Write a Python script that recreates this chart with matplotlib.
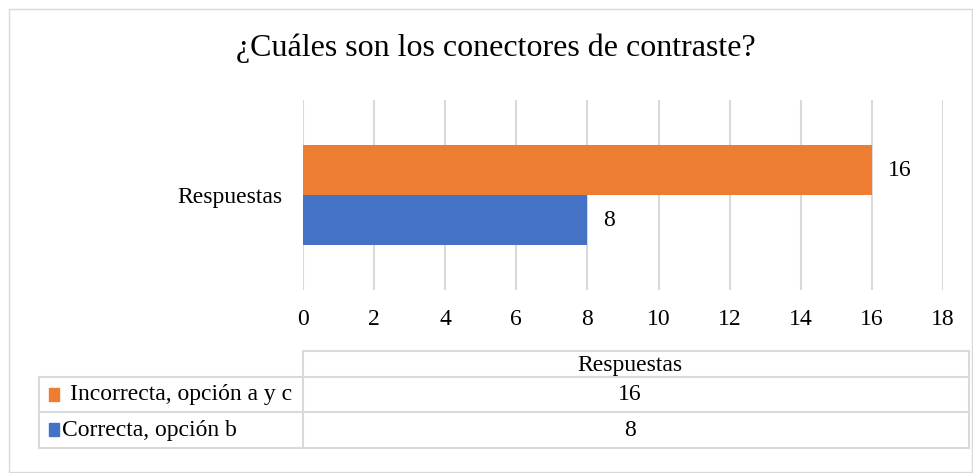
import matplotlib.pyplot as plt
from matplotlib.lines import Line2D
from matplotlib.patches import Rectangle

plt.rcParams['font.family'] = ['Liberation Serif', 'DejaVu Serif']

title = '¿Cuáles son los conectores de contraste?'
category = 'Respuestas'
series = ['Incorrecta, opción a y c', 'Correcta, opción b']
values = [16, 8]
colors = ['#ED7D31', '#4472C4']
xticks = [0, 2, 4, 6, 8, 10, 12, 14, 16, 18]

W, H = 973, 473
fig = plt.figure(figsize=(W / 100, H / 100), dpi=100)


def fx(x):
    return x / W


def fy(y):
    return 1 - y / H


# outer chart border
fig.add_artist(Rectangle((fx(9), fy(472)), fx(963), 463 / H, transform=fig.transFigure,
                         fill=False, edgecolor='#d9d9d9', lw=1))

fig.text(fx(496), fy(48), title, ha='center', va='center', fontsize=23)

ax = fig.add_axes([fx(303), fy(290), fx(943) - fx(303), 190 / H])
ypos = [0.25, -0.25]
ax.barh(ypos, values, height=0.5, color=colors, zorder=3)
for y, v in zip(ypos, values):
    ax.text(v + 0.45, y, str(v), va='center', ha='left', fontsize=17)

ax.set_xlim(0, 18)
ax.set_ylim(-0.95, 0.95)
ax.set_xticks(xticks)
ax.set_yticks([0])
ax.set_yticklabels([category])
ax.tick_params(axis='both', length=0, labelsize=17)
ax.tick_params(axis='x', pad=14)
ax.tick_params(axis='y', pad=15)
ax.grid(axis='x', color='#d9d9d9', lw=1.5, zorder=0)
for s in ax.spines.values():
    s.set_visible(False)

# data table below the chart
grid = '#d9d9d9'
x_left, x_mid, x_right = 39, 303, 969
y_rows = [351, 377, 412, 448]


def hline(y, x0, x1):
    fig.add_artist(Line2D([fx(x0), fx(x1)], [fy(y), fy(y)], transform=fig.transFigure, color=grid, lw=1.5))


def vline(x, y0, y1):
    fig.add_artist(Line2D([fx(x), fx(x)], [fy(y0), fy(y1)], transform=fig.transFigure, color=grid, lw=1.5))


hline(y_rows[0], x_mid, x_right)
for y in y_rows[1:]:
    hline(y, x_left, x_right)
vline(x_mid, y_rows[0], y_rows[3])
vline(x_right, y_rows[0], y_rows[3])
vline(x_left, y_rows[1], y_rows[3])

fig.text(fx(630), fy((y_rows[0] + y_rows[1]) / 2 + 1), category, ha='center', va='center', fontsize=17)
label_x = [70, 62]
for i, (name, v, c) in enumerate(zip(series, values, colors)):
    yc = (y_rows[i + 1] + y_rows[i + 2]) / 2
    fig.add_artist(Rectangle((fx(49), fy(yc + 6)), fx(10), 13 / H,
                             transform=fig.transFigure, color=c))
    fig.text(fx(label_x[i]), fy(yc), name, ha='left', va='center', fontsize=17)
    fig.text(fx(630), fy(yc), str(v), ha='center', va='center', fontsize=17)

fig.savefig('out.png', dpi=100)
